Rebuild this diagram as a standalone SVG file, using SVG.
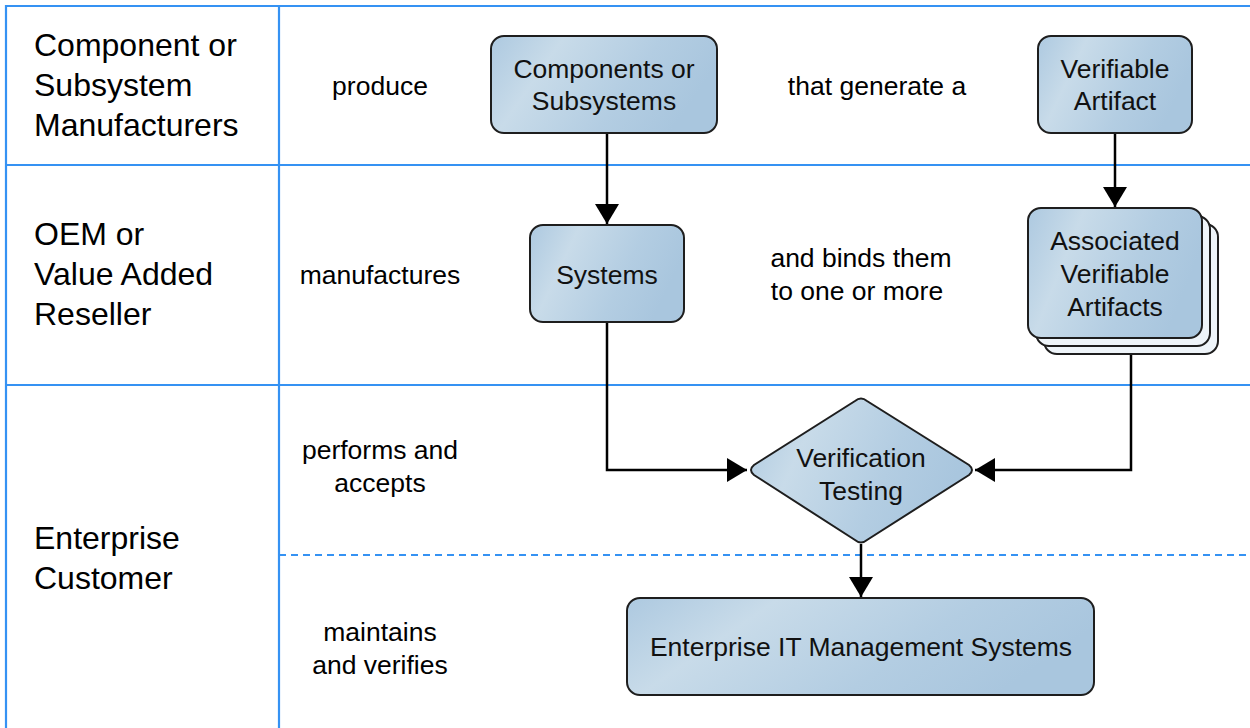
<svg xmlns="http://www.w3.org/2000/svg" width="1250" height="728" viewBox="0 0 1250 728">
<defs>
<linearGradient id="g" x1="0" y1="0" x2="1" y2="0.3">
<stop offset="0" stop-color="#adc9e0"/>
<stop offset="0.3" stop-color="#c8dbe9"/>
<stop offset="0.7" stop-color="#b3cde2"/>
<stop offset="1" stop-color="#a9c6de"/>
</linearGradient>
<marker id="ah" viewBox="0 0 20 24" refX="20" refY="12" markerWidth="20" markerHeight="24" markerUnits="userSpaceOnUse" orient="auto">
<path d="M0,0 L20,12 L0,24 Z" fill="#000"/>
</marker>
<style>
.grid{stroke:#3592f3;stroke-width:2.2;fill:none}
.dash{stroke:#3592f3;stroke-width:2.2;stroke-dasharray:7 5;fill:none}
.node{fill:url(#g);stroke:#1e1e1e;stroke-width:2}
.back{fill:#eef4f9;stroke:#1e1e1e;stroke-width:2}
.conn{stroke:#000;stroke-width:2.5;fill:none}
.lane{font-family:"Liberation Sans",Arial,sans-serif;font-size:32px;fill:#000}
.lbl{font-family:"Liberation Sans",Arial,sans-serif;font-size:26.5px;fill:#000;text-anchor:middle}
.nt{font-family:"Liberation Sans",Arial,sans-serif;font-size:26.5px;fill:#111;text-anchor:middle}
</style>
</defs>
<rect width="1250" height="728" fill="#fff"/>
<g id="grid">
<line class="grid" x1="6" y1="6" x2="1250" y2="6"/>
<line class="grid" x1="6" y1="5" x2="6" y2="728"/>
<line class="grid" x1="279" y1="6" x2="279" y2="728"/>
<line class="grid" x1="6" y1="165" x2="1250" y2="165"/>
<line class="grid" x1="6" y1="385" x2="1250" y2="385"/>
<line class="dash" x1="279" y1="555" x2="1250" y2="555"/>
</g>
<g id="lanes">
<text class="lane" x="34" y="56">Component or</text>
<text class="lane" x="34" y="96">Subsystem</text>
<text class="lane" x="34" y="136">Manufacturers</text>
<text class="lane" x="34" y="245">OEM or</text>
<text class="lane" x="34" y="285">Value Added</text>
<text class="lane" x="34" y="325">Reseller</text>
<text class="lane" x="34" y="549">Enterprise</text>
<text class="lane" x="34" y="589">Customer</text>
</g>
<g id="labels">
<text class="lbl" x="380" y="95">produce</text>
<text class="lbl" x="380" y="284">manufactures</text>
<text class="lbl" x="380" y="459">performs and</text>
<text class="lbl" x="380" y="492">accepts</text>
<text class="lbl" x="380" y="641">maintains</text>
<text class="lbl" x="380" y="674">and verifies</text>
<text class="lbl" x="877" y="95">that generate a</text>
<text class="lbl" x="861" y="267">and binds them</text>
<text class="lbl" x="857" y="300">to one or more</text>
</g>
<g id="connectors">
<line class="conn" x1="607" y1="133" x2="607" y2="224" marker-end="url(#ah)"/>
<line class="conn" x1="1115" y1="133" x2="1115" y2="207" marker-end="url(#ah)"/>
<polyline class="conn" points="607,322 607,470 747,470" marker-end="url(#ah)"/>
<polyline class="conn" points="1131,355 1131,470 975,470" marker-end="url(#ah)"/>
<line class="conn" x1="861" y1="544" x2="861" y2="597" marker-end="url(#ah)"/>
</g>
<g id="n-components">
<rect class="node" x="491" y="36" width="226" height="97" rx="13"/>
<text class="nt" x="604" y="78">Components or</text>
<text class="nt" x="604" y="110">Subsystems</text>
</g>
<g id="n-artifact">
<rect class="node" x="1038" y="36" width="154" height="97" rx="13"/>
<text class="nt" x="1115" y="78">Verifiable</text>
<text class="nt" x="1115" y="110">Artifact</text>
</g>
<g id="n-systems">
<rect class="node" x="530" y="225" width="154" height="97" rx="13"/>
<text class="nt" x="607" y="284">Systems</text>
</g>
<g id="n-associated">
<rect class="back" x="1044" y="224" width="174" height="130" rx="13"/>
<rect class="back" x="1036" y="216" width="174" height="130" rx="13"/>
<rect class="node" x="1028" y="208" width="174" height="130" rx="13"/>
<text class="nt" x="1115" y="250">Associated</text>
<text class="nt" x="1115" y="283">Verifiable</text>
<text class="nt" x="1115" y="316">Artifacts</text>
</g>
<g id="n-verification">
<path class="node" d="M855,401 Q861,396 867,401 L969,465 Q975,470 969,475 L867,540 Q861,545 855,540 L754,475 Q748,470 754,465 Z"/>
<text class="nt" x="861" y="467">Verification</text>
<text class="nt" x="861" y="500">Testing</text>
</g>
<g id="n-enterprise">
<rect class="node" x="627" y="598" width="467" height="97" rx="13"/>
<text class="nt" x="861" y="656">Enterprise IT Management Systems</text>
</g>
</svg>
